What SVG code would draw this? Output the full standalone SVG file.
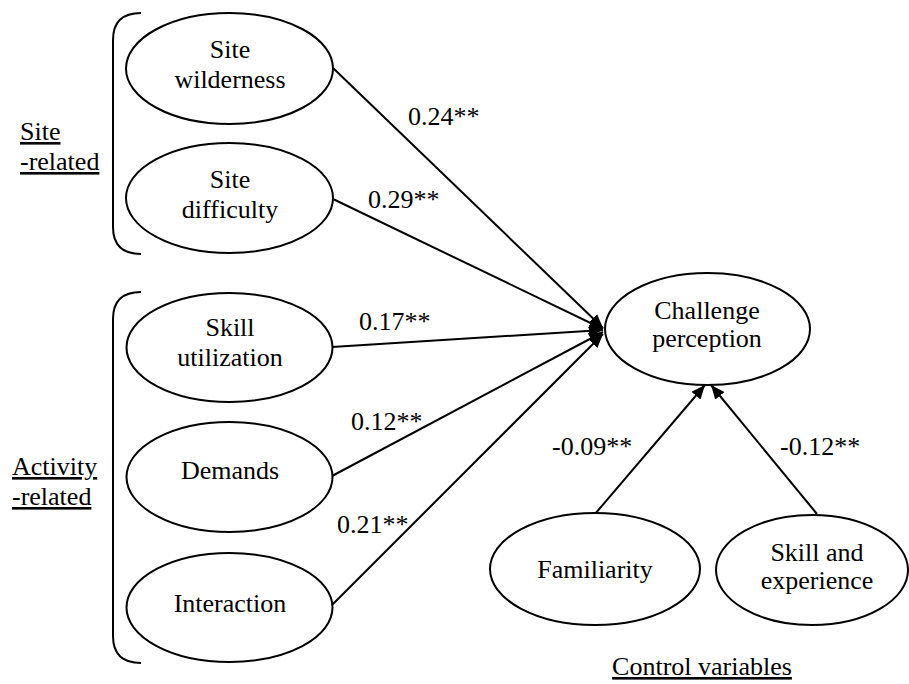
<svg xmlns="http://www.w3.org/2000/svg" width="909" height="684" viewBox="0 0 909 684">
<style>
.c{text-anchor:middle}
.u{text-decoration:underline}
ellipse{fill:#fff;stroke:#000;stroke-width:2}
.br{fill:none;stroke:#000;stroke-width:2}
.e{stroke:#000;stroke-width:2;fill:none;marker-end:url(#ah)}
</style>
<defs>
<marker id="ah" markerUnits="userSpaceOnUse" markerWidth="16" markerHeight="12" refX="14" refY="6" orient="auto">
<path d="M0,0 L14,6 L0,12 Z" fill="#000"/>
</marker>
</defs>
<rect width="909" height="684" fill="#fff"/>
<g font-family="Liberation Serif, DejaVu Serif, serif" font-size="26" fill="#000">
<g id="groups">
<path class="br" d="M141,13 Q113,13 113,40 L113,227 Q113,254 141,254"/>
<text class="u" x="20" y="140">Site</text>
<text class="u" x="20" y="170">-related</text>
<path class="br" d="M141,292 Q113,292 113,319 L113,636 Q113,663 141,663"/>
<text class="u" x="12" y="475">Activity</text>
<text class="u" x="12" y="505">-related</text>
<text class="u c" x="702" y="675">Control variables</text>
</g>
<g id="connectors">
<line class="e" x1="333" y1="68" x2="603" y2="328"/>
<line class="e" x1="333" y1="199" x2="603" y2="329"/>
<line class="e" x1="332" y1="347" x2="603" y2="330"/>
<line class="e" x1="332" y1="476" x2="603" y2="332"/>
<line class="e" x1="332" y1="605" x2="603" y2="334"/>
<line class="e" x1="595" y1="514" x2="705" y2="385"/>
<line class="e" x1="817" y1="514" x2="711" y2="385"/>
<text x="408" y="125">0.24**</text>
<text x="368" y="208">0.29**</text>
<text x="359" y="330">0.17**</text>
<text x="351" y="430">0.12**</text>
<text x="337" y="533">0.21**</text>
<text x="552" y="455">-0.09**</text>
<text x="780" y="455">-0.12**</text>
</g>
<g id="site-wilderness">
<ellipse cx="229.5" cy="68.5" rx="103.5" ry="55.5"/>
<text class="c" x="230" y="58">Site</text>
<text class="c" x="230" y="88">wilderness</text>
</g>
<g id="site-difficulty">
<ellipse cx="229.5" cy="198" rx="103.5" ry="55"/>
<text class="c" x="230" y="188">Site</text>
<text class="c" x="230" y="218">difficulty</text>
</g>
<g id="skill-utilization">
<ellipse cx="229.5" cy="347.5" rx="103" ry="54.5"/>
<text class="c" x="230" y="336">Skill</text>
<text class="c" x="230" y="366">utilization</text>
</g>
<g id="demands">
<ellipse cx="229.5" cy="477" rx="103" ry="55"/>
<text class="c" x="230" y="479">Demands</text>
</g>
<g id="interaction">
<ellipse cx="229.5" cy="607.5" rx="103" ry="54.5"/>
<text class="c" x="230" y="612">Interaction</text>
</g>
<g id="challenge-perception">
<ellipse cx="707.5" cy="329" rx="102.5" ry="56"/>
<text class="c" x="707" y="319">Challenge</text>
<text class="c" x="707" y="347">perception</text>
</g>
<g id="familiarity">
<ellipse cx="595" cy="569" rx="105" ry="56"/>
<text class="c" x="595" y="578">Familiarity</text>
</g>
<g id="skill-experience">
<ellipse cx="812" cy="570" rx="96" ry="55"/>
<text class="c" x="817" y="561">Skill and</text>
<text class="c" x="817" y="589">experience</text>
</g>
</g>
</svg>
